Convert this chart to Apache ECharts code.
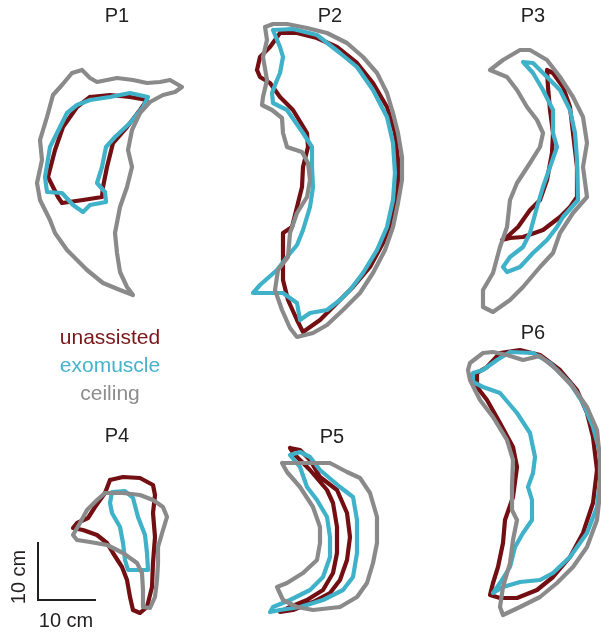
<!DOCTYPE html>
<html>
<head>
<meta charset="utf-8">
<title>Reachable workspace by participant</title>
<script src="https://cdn.jsdelivr.net/npm/echarts@6/dist/echarts.min.js"></script>
<style>
  html, body { margin: 0; padding: 0; background: #ffffff; }
  #chart { width: 601px; height: 632px; }
</style>
</head>
<body>
<div id="chart"></div>
<script>
// Workspace outlines per participant, in page units (5.8 units = 1 cm).
const participants = ['P1', 'P2', 'P3', 'P4', 'P5', 'P6'];
const conditions = ['unassisted', 'exomuscle', 'ceiling'];

const p1Unassisted = [[90,97],[110,95],[130,97],[147,100],[140,110],[127,127],[113,143],[107,167],[103,187],[102,197],[83,200],[62,203],[58,197],[48,177],[55,150],[63,127],[77,107],[90,97]];
const p1Exomuscle = [[90,100],[110,97],[130,93],[148,97],[143,107],[130,123],[115,137],[106,147],[102,167],[97,183],[105,192],[106,202],[90,205],[83,212],[73,205],[62,193],[47,192],[45,177],[50,147],[60,127],[67,113],[77,105],[90,100]];
const p1Ceiling = [[82,70],[72,73],[62,85],[53,95],[47,117],[40,140],[42,160],[37,183],[40,200],[50,220],[55,233],[67,250],[87,270],[103,283],[120,290],[133,295],[127,287],[120,272],[117,253],[115,233],[120,207],[127,187],[132,167],[128,150],[132,130],[140,113],[150,102],[163,95],[175,92],[182,87],[170,80],[160,82],[147,83],[133,80],[117,78],[97,82],[90,78],[82,70]];

const p2Unassisted = [[280,33],[297,33],[317,38],[337,47],[357,63],[373,83],[387,107],[395,133],[398,160],[398,187],[393,217],[383,243],[370,267],[353,287],[337,303],[320,320],[303,332],[297,320],[288,300],[283,280],[283,257],[283,233],[292,227],[297,207],[302,187],[303,167],[308,147],[307,133],[293,110],[280,97],[270,83],[260,77],[257,70],[260,57],[270,47],[280,33]];
const p2Exomuscle = [[273,30],[293,29],[317,35],[340,53],[357,67],[373,90],[387,117],[393,143],[395,173],[393,200],[387,227],[377,250],[363,273],[350,290],[340,300],[327,310],[310,313],[300,320],[297,303],[283,293],[263,293],[253,293],[260,285],[277,270],[287,257],[297,245],[303,230],[310,207],[313,187],[312,167],[312,147],[303,133],[287,110],[273,103],[272,93],[277,80],[280,73],[283,57],[280,47],[273,30]];
const p2Ceiling = [[265,27],[273,24],[287,24],[307,28],[327,33],[347,43],[363,57],[377,73],[387,93],[393,113],[398,133],[402,157],[402,180],[398,203],[393,227],[385,250],[373,273],[360,293],[343,310],[327,325],[313,333],[297,337],[290,328],[282,310],[275,290],[278,270],[288,257],[290,233],[297,213],[307,197],[310,180],[308,163],[302,152],[287,147],[283,133],[282,118],[272,110],[262,105],[263,97],[267,80],[263,57],[267,40],[265,27]];

const p3Unassisted = [[547,70],[548,87],[550,110],[553,133],[552,153],[547,180],[540,200],[530,210],[518,227],[507,237],[502,240],[510,238],[523,237],[543,230],[560,217],[570,207],[577,197],[577,167],[573,133],[570,107],[563,87],[553,73],[547,70]];
const p3Exomuscle = [[523,62],[533,63],[547,77],[560,90],[570,110],[575,133],[577,160],[578,200],[563,217],[557,227],[547,240],[533,253],[520,267],[507,272],[503,267],[510,257],[523,247],[530,233],[537,207],[543,187],[550,167],[557,147],[553,133],[553,110],[543,90],[533,73],[523,62]];
const p3Ceiling = [[490,70],[503,60],[520,50],[530,50],[547,60],[560,77],[573,97],[583,117],[587,143],[583,167],[587,197],[573,213],[560,233],[553,253],[540,267],[523,287],[510,300],[493,312],[483,307],[483,290],[493,273],[500,247],[507,227],[510,200],[517,183],[530,163],[540,147],[543,133],[537,120],[527,107],[517,90],[507,77],[490,70]];

const p4Unassisted = [[110,480],[123,477],[140,478],[153,485],[155,495],[153,513],[155,537],[153,563],[152,587],[147,607],[140,613],[133,610],[130,597],[127,580],[122,567],[113,553],[107,543],[97,535],[83,530],[73,528],[77,523],[88,518],[95,507],[105,493],[110,480]];
const p4Exomuscle = [[112,492],[125,491],[133,498],[138,517],[145,535],[147,553],[148,570],[128,570],[125,560],[123,543],[120,527],[112,513],[110,503],[112,492]];
const p4Ceiling = [[105,493],[123,493],[140,495],[153,500],[163,507],[167,517],[163,530],[158,547],[158,563],[157,580],[155,597],[150,608],[143,607],[143,590],[142,573],[137,563],[123,553],[107,545],[90,542],[77,540],[73,535],[80,523],[87,510],[97,500],[105,493]];

const p5Unassisted = [[290,448],[300,450],[310,460],[320,477],[337,490],[347,513],[350,537],[347,560],[340,580],[330,593],[313,602],[293,610],[280,612],[290,607],[307,600],[323,590],[333,573],[337,553],[337,527],[333,503],[327,490],[310,470],[293,453],[290,448]];
const p5Exomuscle = [[290,455],[300,452],[310,457],[320,470],[340,487],[353,497],[357,520],[357,553],[353,577],[343,590],[323,600],[300,607],[280,610],[270,612],[273,607],[290,600],[310,590],[323,577],[330,557],[330,537],[327,517],[317,500],[307,487],[300,467],[290,455]];
const p5Ceiling = [[282,463],[300,463],[330,463],[347,472],[360,478],[370,493],[377,517],[377,543],[373,563],[367,583],[357,597],[340,607],[313,610],[297,607],[283,600],[277,587],[287,583],[303,573],[317,560],[320,543],[320,527],[313,507],[300,487],[287,472],[282,463]];

const p6Unassisted = [[477,373],[487,367],[500,353],[520,350],[540,355],[560,370],[577,390],[587,413],[593,437],[597,470],[593,503],[583,533],[570,557],[553,577],[537,590],[517,598],[500,598],[490,595],[493,583],[498,567],[503,543],[505,520],[513,497],[517,467],[513,447],[500,423],[487,400],[477,387],[477,373]];
const p6Exomuscle = [[473,373],[483,370],[497,360],[510,352],[533,353],[550,363],[570,383],[583,403],[593,427],[600,453],[600,480],[597,507],[587,533],[570,557],[553,573],[540,580],[520,582],[503,587],[493,593],[500,583],[510,567],[515,547],[523,533],[532,520],[532,500],[528,487],[533,473],[535,457],[530,433],[517,413],[500,393],[483,387],[473,382],[473,373]];
const p6Ceiling = [[470,363],[483,353],[493,352],[507,355],[523,360],[540,356],[557,370],[573,387],[587,407],[597,430],[600,460],[600,493],[597,520],[587,547],[573,567],[557,583],[540,597],[520,607],[503,615],[500,607],[503,587],[510,563],[513,540],[517,520],[512,510],[512,487],[513,460],[507,440],[493,417],[480,400],[470,380],[468,370],[470,363]];

const outlines = {
  unassisted: [p1Unassisted, p2Unassisted, p3Unassisted, p4Unassisted, p5Unassisted, p6Unassisted],
  exomuscle: [p1Exomuscle, p2Exomuscle, p3Exomuscle, p4Exomuscle, p5Exomuscle, p6Exomuscle],
  ceiling: [p1Ceiling, p2Ceiling, p3Ceiling, p4Ceiling, p5Ceiling, p6Ceiling]
};

// Scale bar: 10 cm in both directions
const scaleBarLength = 10;
const scaleBarLabel = '10 cm';

const colors = { unassisted: '#730f12', exomuscle: '#3fb1c9', ceiling: '#8a8a8a' };
const textColors = { unassisted: '#7a1618', exomuscle: '#45b4cb', ceiling: '#8d8d8d' };

const unitsPerCm = 5.8;
const barOrigin = [38, 600];
const titlePos = [[117, 16], [330, 16], [533, 16], [117, 436], [332, 437], [533, 333]];
const legendPos = [[110, 338], [110, 366], [110, 394]];

const series = [];
conditions.forEach(function (cond) {
  outlines[cond].forEach(function (pts, i) {
    series.push({
      name: cond + ' ' + participants[i],
      type: 'line',
      data: pts,
      showSymbol: false,
      symbol: 'none',
      silent: true,
      animation: false,
      lineStyle: { color: colors[cond], width: 4.2, cap: 'round', join: 'round' }
    });
  });
});

const barLen = scaleBarLength * unitsPerCm;
series.push({
  name: 'scale bar',
  type: 'line',
  data: [[barOrigin[0], barOrigin[1] - barLen], barOrigin, [barOrigin[0] + barLen, barOrigin[1]]],
  showSymbol: false,
  symbol: 'none',
  silent: true,
  animation: false,
  lineStyle: { color: '#231f20', width: 2, join: 'miter' }
});

const font = '"Liberation Sans", Arial, Helvetica, sans-serif';
const graphics = [];
participants.forEach(function (p, i) {
  graphics.push({
    type: 'text', x: titlePos[i][0], y: titlePos[i][1],
    style: { text: p, fontSize: 20, fontFamily: font, fill: '#222222', align: 'center', verticalAlign: 'middle' }
  });
});
conditions.forEach(function (c, i) {
  graphics.push({
    type: 'text', x: legendPos[i][0], y: legendPos[i][1],
    style: { text: c, fontSize: 21, fontFamily: font, fill: textColors[c], align: 'center', verticalAlign: 'middle' }
  });
});
graphics.push({
  type: 'text', x: 66, y: 621,
  style: { text: scaleBarLabel, fontSize: 20, fontFamily: font, fill: '#231f20', align: 'center', verticalAlign: 'middle' }
});
graphics.push({
  type: 'text', x: 19, y: 577, rotation: Math.PI / 2,
  style: { text: scaleBarLabel, fontSize: 20, fontFamily: font, fill: '#231f20', align: 'center', verticalAlign: 'middle' }
});

const chart = echarts.init(document.getElementById('chart'), null, { renderer: 'canvas' });
chart.setOption({
  backgroundColor: '#ffffff',
  animation: false,
  grid: { left: 0, top: 0, width: 601, height: 632, containLabel: false },
  xAxis: { type: 'value', min: 0, max: 601, show: false },
  yAxis: { type: 'value', min: 0, max: 632, inverse: true, show: false },
  series: series,
  graphic: graphics
});
</script>
</body>
</html>
